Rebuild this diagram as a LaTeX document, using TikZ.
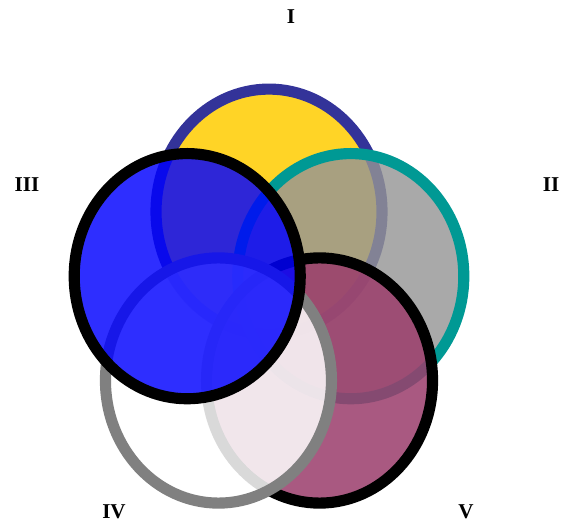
\documentclass[tikz,border=0pt]{standalone}
\usepackage{fontspec}
\setmainfont{Liberation Serif}
\usetikzlibrary{positioning}

\definecolor{yellowI}{RGB}{255,212,38}
\definecolor{navyI}{RGB}{51,51,153}
\definecolor{greyII}{RGB}{149,149,149}
\definecolor{tealII}{RGB}{0,153,148}
\definecolor{plumV}{RGB}{155,62,108}
\definecolor{greyIV}{RGB}{128,128,128}

\begin{document}
\begin{tikzpicture}[x=0.03cm, y=0.03cm,
    ring/.style={line width=9.5pt},
    roman/.style={font=\fontsize{18}{20}\selectfont\bfseries}]
  \useasboundingbox (0,0) rectangle (565,524);

  % Sets, from the bottom one to the top one
  \begin{scope}[shift={(269,219)}, yscale=1.085]
    \filldraw[ring, draw=navyI, fill=yellowI] (90:86) circle (113);
    \filldraw[ring, draw=tealII, fill=greyII, fill opacity=0.81] (18:86) circle (113);
    \filldraw[ring, draw=black, fill=plumV, fill opacity=0.86] (-54:86) circle (113);
    \filldraw[ring, draw=greyIV, fill=white, fill opacity=0.85] (234:86) circle (113);
    \filldraw[ring, draw=black, fill=blue, fill opacity=0.82] (162:86) circle (113);
  \end{scope}

  % Labels
  \node[roman] (labI) at (291,507) {I};
  \node[roman] (labII) at (551,339) {II};
  \node[roman] (labIII) at (27,339) {III};
  \node[roman] (labIV) at (114,12) {IV};
  \node[roman] (labV) at (466,12) {V};
\end{tikzpicture}
\end{document}
